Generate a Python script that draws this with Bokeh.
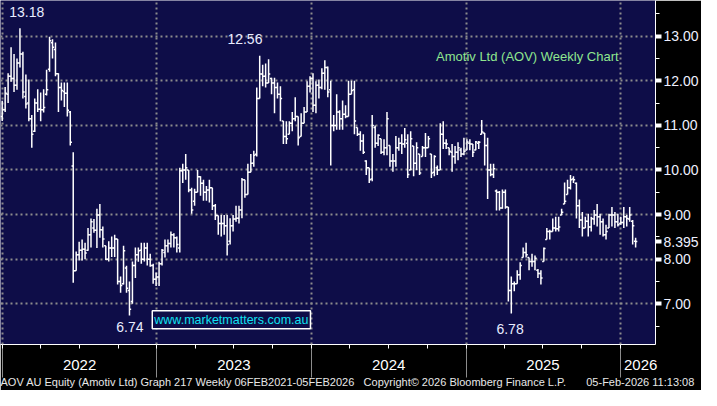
import numpy as np
import pandas as pd
from bokeh.plotting import figure
from bokeh.models import (Range1d, LinearAxis, FixedTicker, Grid, CustomJSTickFormatter,
                          Label, ColumnDataSource)
from bokeh.embed import file_html
from bokeh.resources import INLINE

# ---------------- data (weekly OHLC) ----------------
first_week = "2021-12-31"

opens = [11.20, 11.35, 11.70, 12.10, 12.05, 11.90, 12.40, 12.60, 11.65, 11.50,
         11.15, 10.87, 11.50, 11.36, 11.35, 11.70, 12.26, 12.85, 12.70, 12.16,
         11.85, 11.76, 11.72, 11.30, 10.09, 7.74, 8.10, 8.20, 8.22, 8.20,
         8.55, 8.70, 8.65, 8.99, 8.66, 8.30, 8.00, 8.25, 8.25, 8.45,
         7.50, 7.45, 7.80, 7.30, 7.05, 7.86, 8.10, 8.20, 8.00, 8.25,
         8.00, 7.86, 7.55, 7.60, 7.90, 8.15, 8.30, 8.35, 8.55, 8.48,
         8.25, 9.98, 10.00, 10.00, 9.55, 9.30, 9.50, 9.85, 9.70, 9.50,
         9.55, 9.60, 9.20, 8.98, 8.80, 8.80, 8.75, 8.40, 8.75, 8.90,
         8.92, 9.10, 9.78, 9.45, 9.95, 10.15, 10.35, 11.60, 12.15, 12.10,
         11.95, 12.05, 11.95, 11.85, 11.70, 11.10, 10.75, 10.80, 11.05, 11.15,
         11.20, 10.75, 11.05, 11.30, 11.88, 12.05, 11.45, 11.90, 11.85, 12.17,
         12.30, 11.80, 11.00, 11.00, 11.30, 11.15, 11.25, 11.20, 11.70, 11.80,
         10.95, 10.80, 10.65, 10.20, 10.05, 9.80, 10.95, 10.60, 10.70, 10.40,
         10.50, 10.55, 10.20, 10.20, 10.50, 10.60, 10.58, 10.60, 10.00, 10.54,
         10.15, 10.36, 10.30, 10.50, 10.50, 10.36, 9.95, 10.05, 10.00, 10.80,
         10.60, 10.50, 10.40, 10.30, 10.40, 10.45, 10.36, 10.45, 10.60, 10.58,
         10.45, 10.60, 10.80, 10.83, 10.55, 10.00, 9.90, 9.53, 9.50, 9.15,
         9.50, 9.17, 7.30, 7.45, 7.45, 7.65, 8.04, 8.15, 8.04, 7.95,
         7.95, 7.75, 7.68, 7.95, 8.44, 8.62, 8.62, 8.70, 8.68, 8.99,
         9.24, 9.45, 9.60, 9.80, 9.70, 9.20, 8.88, 8.70, 8.85, 8.72,
         8.90, 8.99, 8.95, 8.84, 8.55, 8.70, 8.99, 8.99, 8.84, 8.80,
         8.82, 8.95, 8.90, 8.85, 8.40]

highs = [11.55, 11.86, 12.17, 12.75, 12.60, 12.50, 13.18, 12.65, 12.14, 12.03,
         11.23, 11.60, 11.81, 11.74, 11.81, 12.25, 12.99, 12.93, 12.86, 12.17,
         11.96, 11.96, 11.96, 11.32, 10.40, 8.17, 8.39, 8.44, 8.37, 8.70,
         8.91, 8.90, 9.13, 9.24, 8.73, 8.30, 8.40, 8.51, 8.55, 8.45,
         7.61, 8.30, 7.85, 7.50, 7.95, 8.26, 8.26, 8.37, 8.37, 8.37,
         8.12, 7.90, 7.70, 7.94, 8.23, 8.44, 8.44, 8.62, 8.58, 8.51,
         10.05, 10.14, 10.36, 10.00, 9.60, 9.58, 10.00, 9.86, 9.78, 9.64,
         9.78, 9.60, 9.24, 8.98, 8.99, 8.99, 8.99, 8.92, 8.99, 9.20,
         9.20, 9.82, 9.78, 10.14, 10.36, 10.43, 11.85, 12.56, 12.36, 12.39,
         12.48, 12.07, 12.07, 11.96, 11.88, 11.10, 11.09, 11.09, 11.30, 11.63,
         11.20, 11.27, 11.41, 11.99, 12.10, 12.17, 11.99, 12.03, 12.28, 12.46,
         12.32, 12.00, 11.23, 11.70, 11.34, 11.56, 11.45, 12.00, 12.00, 12.00,
         10.95, 10.87, 10.80, 10.22, 10.05, 11.23, 11.00, 10.80, 10.70, 10.69,
         11.30, 10.55, 10.36, 10.76, 10.72, 10.80, 10.94, 10.80, 10.87, 10.54,
         10.62, 10.36, 10.54, 10.83, 10.76, 10.36, 10.33, 10.10, 11.05, 11.09,
         10.69, 10.50, 10.58, 10.54, 10.62, 10.50, 10.72, 10.69, 10.69, 10.58,
         10.65, 10.65, 11.12, 10.83, 10.72, 10.14, 10.14, 9.56, 9.53, 9.56,
         9.56, 9.17, 7.61, 7.50, 7.75, 7.93, 8.26, 8.37, 8.04, 8.12,
         8.08, 7.78, 7.75, 8.26, 8.70, 8.66, 8.91, 8.95, 8.95, 9.13,
         9.72, 9.78, 9.89, 9.86, 9.72, 9.34, 9.06, 8.95, 9.02, 8.95,
         9.10, 9.24, 9.02, 8.91, 8.77, 9.02, 9.17, 9.06, 9.02, 8.95,
         9.17, 8.99, 9.17, 8.88, 8.48]

lows = [11.10, 11.30, 11.50, 11.98, 11.75, 11.80, 12.30, 11.60, 11.38, 11.09,
        10.50, 10.85, 11.30, 11.09, 11.29, 11.67, 12.20, 12.50, 12.10, 11.30,
        11.56, 11.41, 11.20, 10.55, 7.47, 7.74, 7.97, 7.97, 8.00, 8.19,
        8.26, 8.59, 8.25, 8.48, 8.26, 7.98, 7.95, 8.05, 8.05, 7.43,
        7.25, 7.43, 7.25, 6.74, 7.00, 7.58, 7.94, 7.90, 7.95, 7.86,
        7.83, 7.45, 7.40, 7.40, 7.86, 8.04, 8.15, 8.26, 8.26, 8.15,
        8.15, 9.71, 9.78, 9.50, 9.02, 9.20, 9.50, 9.42, 9.31, 9.31,
        9.27, 9.10, 8.88, 8.55, 8.51, 8.55, 8.08, 8.33, 8.62, 8.84,
        8.80, 8.92, 9.38, 9.45, 9.95, 10.07, 10.30, 11.60, 11.88, 11.85,
        11.95, 11.70, 11.27, 11.60, 11.09, 10.58, 10.58, 10.80, 10.87, 11.09,
        10.55, 10.75, 11.05, 11.30, 11.74, 11.30, 11.27, 11.60, 11.81, 11.80,
        11.63, 10.10, 10.87, 10.90, 10.90, 10.90, 11.16, 11.20, 11.70, 10.80,
        10.76, 10.43, 10.36, 9.89, 9.71, 9.75, 10.50, 10.54, 10.36, 10.33,
        10.33, 10.07, 9.96, 10.07, 10.43, 10.36, 10.50, 9.82, 10.00, 9.86,
        10.00, 9.89, 10.30, 10.29, 10.50, 9.82, 9.86, 9.89, 10.00, 10.47,
        10.47, 10.33, 9.96, 10.14, 10.22, 10.29, 10.33, 10.44, 10.44, 10.29,
        10.44, 10.47, 10.80, 10.10, 9.35, 9.86, 9.82, 9.09, 9.09, 9.13,
        9.13, 7.05, 6.78, 7.28, 7.45, 7.54, 8.04, 8.04, 7.75, 7.83,
        7.75, 7.58, 7.43, 7.95, 8.44, 8.44, 8.62, 8.62, 8.62, 8.99,
        9.24, 9.45, 9.56, 9.71, 8.91, 8.70, 8.51, 8.70, 8.51, 8.62,
        8.77, 8.73, 8.55, 8.51, 8.44, 8.70, 8.73, 8.70, 8.73, 8.77,
        8.70, 8.73, 8.84, 8.33, 8.26]

closes = [11.35, 11.72, 12.10, 12.05, 11.90, 12.40, 12.60, 11.75, 11.48, 11.15,
          10.80, 11.50, 11.36, 11.35, 11.40, 11.80, 12.90, 12.75, 12.16, 11.85,
          11.78, 11.72, 11.34, 10.62, 7.74, 8.10, 8.20, 8.22, 8.14, 8.55,
          8.84, 8.65, 8.99, 8.66, 8.45, 8.00, 8.25, 8.25, 8.45, 7.50,
          7.41, 8.19, 7.35, 6.88, 7.86, 8.10, 8.19, 8.00, 8.25, 8.00,
          7.86, 7.55, 7.60, 7.90, 8.20, 8.30, 8.35, 8.55, 8.48, 8.33,
          9.98, 10.00, 10.05, 9.55, 9.10, 9.50, 9.85, 9.70, 9.50, 9.55,
          9.60, 9.20, 8.98, 8.80, 8.80, 8.75, 8.33, 8.75, 8.90, 8.92,
          9.10, 9.78, 9.45, 9.95, 10.15, 10.33, 11.60, 12.15, 12.10, 11.95,
          12.15, 11.95, 11.85, 11.70, 11.60, 10.75, 10.70, 11.05, 11.15, 11.20,
          10.72, 11.05, 11.30, 11.88, 12.05, 11.45, 11.90, 11.85, 12.17, 12.30,
          11.75, 11.00, 11.00, 11.30, 11.15, 11.25, 11.20, 11.70, 11.78, 11.10,
          10.80, 10.65, 10.40, 10.05, 9.78, 11.00, 10.60, 10.78, 10.40, 10.50,
          11.15, 10.20, 10.20, 10.50, 10.60, 10.58, 10.68, 9.90, 10.70, 10.15,
          10.50, 9.93, 10.50, 10.50, 10.70, 9.93, 10.30, 10.00, 10.80, 10.60,
          10.58, 10.42, 10.30, 10.40, 10.50, 10.36, 10.42, 10.63, 10.58, 10.40,
          10.63, 10.62, 10.85, 10.55, 10.00, 9.90, 10.03, 9.50, 9.15, 9.50,
          9.17, 7.30, 7.45, 7.45, 7.65, 7.86, 8.15, 8.10, 7.95, 7.95,
          8.02, 7.68, 7.58, 8.24, 8.62, 8.62, 8.70, 8.68, 8.72, 9.05,
          9.30, 9.60, 9.78, 9.78, 9.20, 8.88, 8.70, 8.85, 8.72, 8.91,
          8.99, 8.95, 8.84, 8.55, 8.62, 8.99, 8.99, 8.84, 8.77, 8.82,
          8.95, 8.91, 8.99, 8.75, 8.395]

year_starts = ["2022-01-01", "2023-01-01", "2024-01-01", "2025-01-01", "2026-01-01"]
quarter_starts = ["2022-04-01", "2022-07-01", "2022-10-01", "2023-04-01", "2023-07-01",
                  "2023-10-01", "2024-04-01", "2024-07-01", "2024-10-01", "2025-04-01",
                  "2025-07-01", "2025-10-01"]
year_labels = ["2022", "2023", "2024", "2025", "2026"]
year_label_dates = ["2022-07-02", "2023-07-02", "2024-07-02", "2025-07-02", "2026-02-18"]
price_ticks = [7, 8, 9, 10, 11, 12, 13]
price_minor = [6.5, 7.5, 8.5, 9.5, 10.5, 11.5, 12.5, 13.5]
last_price = 8.395
footer_texts = ["AOV AU Equity (Amotiv Ltd) Graph 217 Weekly 06FEB2021-05FEB2026",
                "Copyright\u00a9 2026 Bloomberg Finance L.P.",
                "05-Feb-2026 11:13:08"]
footer_dates = ["2023-02-11", "2024-12-29", "2026-02-17"]

# ---------------- helpers ----------------
def ms(s):
    return pd.Timestamp(s).value / 1e6

DAY = 86400000.0
dates = pd.date_range(first_week, periods=len(closes), freq="7D")
xs = np.array([d.value / 1e6 for d in dates])

NAVY = "#0e0d48"
GRID = "#8c8c8c"
FONT = "Liberation Sans"

x_start, x_end = ms("2021-12-27"), ms("2026-03-25")
y_start, y_end = 6.087, 13.80

p = figure(width=701, height=390, output_backend="svg", toolbar_location=None,
           x_axis_type=None, y_axis_type=None,
           x_range=Range1d(x_start, x_end), y_range=Range1d(y_start, y_end))
p.min_border_left = 0
p.min_border_top = 0
p.min_border_right = 0
p.min_border_bottom = 0
p.background_fill_color = NAVY
p.border_fill_color = "black"
p.outline_line_color = None

# grids
p.add_layout(Grid(dimension=0, ticker=FixedTicker(ticks=[ms(d) for d in year_starts]),
                  grid_line_color=GRID, grid_line_dash="2 3", grid_line_width=2))
p.add_layout(Grid(dimension=1, ticker=FixedTicker(ticks=price_ticks),
                  grid_line_color=GRID, grid_line_dash="2 3", grid_line_width=2))

# OHLC bars
src = ColumnDataSource(dict(x=xs, xl=xs - 4 * DAY, xr=xs + 4 * DAY,
                            o=opens, h=highs, l=lows, c=closes))
p.segment(x0="x", y0="l", x1="x", y1="h", source=src, line_color="white", line_width=1.5)
p.segment(x0="xl", y0="o", x1="x", y1="o", source=src, line_color="white", line_width=1.5)
p.segment(x0="x", y0="c", x1="xr", y1="c", source=src, line_color="white", line_width=1.5)

# bottom axis 1: year separators (long grey) and quarter ticks (short white)
blank = CustomJSTickFormatter(code='return ""')
xa = LinearAxis(ticker=FixedTicker(ticks=[ms(d) for d in year_starts],
                                   minor_ticks=[ms(d) for d in quarter_starts + year_starts]),
                formatter=blank,
                axis_line_color="white", axis_line_width=1,
                major_tick_line_color=GRID, major_tick_line_width=1,
                major_tick_in=-33, major_tick_out=0,
                minor_tick_line_color="white", minor_tick_in=-4, minor_tick_out=0,
                major_label_text_font_size="1px", major_label_standoff=0)
p.add_layout(xa, "below")

# bottom axis 2: year labels centred in each year
xb = LinearAxis(ticker=FixedTicker(ticks=[ms(d) for d in year_label_dates], minor_ticks=[]),
                formatter=CustomJSTickFormatter(args=dict(labels=year_labels),
                                                code="return labels[index]"),
                axis_line_color=None, major_tick_line_color=None, minor_tick_line_color=None,
                major_tick_in=0, major_tick_out=0, major_label_standoff=15,
                major_label_text_color="white", major_label_text_font=FONT,
                major_label_text_font_size="15px")
p.add_layout(xb, "below")

# bottom axis 3: footer line
xc = LinearAxis(ticker=FixedTicker(ticks=[ms(d) for d in footer_dates], minor_ticks=[]),
                formatter=CustomJSTickFormatter(args=dict(labels=footer_texts),
                                                code="return labels[index]"),
                axis_line_color=None, major_tick_line_color=None, minor_tick_line_color=None,
                major_tick_in=0, major_tick_out=0, major_label_standoff=3,
                major_label_text_color="#e8e8e8", major_label_text_font=FONT,
                major_label_text_font_size="11px")
p.add_layout(xc, "below")

# right price axis (with the last-price tag as an extra tick)
ya = LinearAxis(ticker=FixedTicker(ticks=price_ticks + [last_price], minor_ticks=price_minor),
                formatter=CustomJSTickFormatter(args=dict(tag=last_price),
                                                code="return tick === tag ? String(tag) : tick.toFixed(2)"),
                axis_line_color="white", axis_line_width=1,
                major_tick_line_color="white", major_tick_line_width=4,
                major_tick_in=0, major_tick_out=6,
                minor_tick_line_color="white", minor_tick_in=0, minor_tick_out=4,
                major_label_text_color="#eef0ff", major_label_text_font=FONT,
                major_label_text_font_size="14px", major_label_standoff=2)
p.add_layout(ya, "right")

# annotations inside the chart
def note(text, d, y, color="#e8ecff", size="14px", align="center"):
    p.add_layout(Label(x=ms(d), y=y, text=text, text_align=align, text_baseline="middle",
                       text_color=color, text_font=FONT, text_font_size=size))

note("13.18", "2022-02-27", 13.54)
note("12.56", "2023-07-28", 12.93)
note("6.74", "2022-10-29", 6.48)
note("6.78", "2025-04-15", 6.43)
note("Amotiv Ltd (AOV) Weekly Chart", "2024-10-22", 12.54, color="#8fe68f", size="13px", align="left")

p.add_layout(Label(x=ms("2023-06-26"), y=6.64, text="www.marketmatters.com.au",
                   text_align="center", text_baseline="middle", text_color="#10e0f0",
                   text_font=FONT, text_font_size="12.5px",
                   background_fill_color=NAVY, border_line_color="white", border_line_width=1.5,
                   padding=2))

open("out.html", "w").write(file_html(p, INLINE))
